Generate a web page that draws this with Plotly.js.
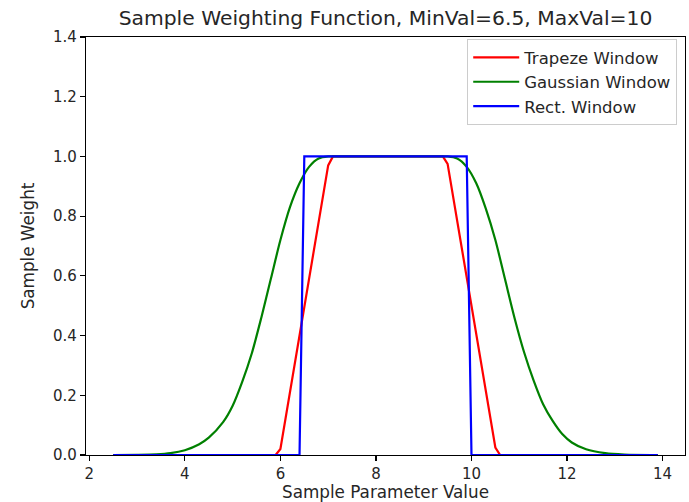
<!DOCTYPE html>
<html>
<head>
<meta charset="utf-8">
<script src="https://cdn.plot.ly/plotly-3.0.1.min.js"></script>
<style>html,body{margin:0;padding:0;background:#fff}#chart{width:689px;height:502px}</style>
</head>
<body>
<div id="chart"></div>
<script>
// Trapeze window
const trapX = [2.5, 5.9, 6.0, 7.0, 7.1, 9.4, 9.5, 10.5, 10.6, 13.9];
const trapY = [0, 0, 0.02, 0.97, 1, 1, 0.975, 0.025, 0, 0];
// Gaussian window
const gaussX = [2.5, 3.0, 3.4, 3.7, 4.0, 4.3, 4.5, 4.8, 5.0, 5.2, 5.4, 5.6, 5.8, 6.0, 6.2, 6.4, 6.6, 6.8, 7.0, 7.1,
                9.4, 9.5, 9.7, 9.9, 10.1, 10.3, 10.5, 10.7, 10.9, 11.1, 11.3, 11.5, 11.7, 11.9, 12.1, 12.4, 12.8, 13.2, 13.9];
const gaussY = [0, 0.0005, 0.002, 0.006, 0.016, 0.036, 0.058, 0.11, 0.165, 0.245, 0.34, 0.46, 0.59, 0.72, 0.83, 0.91, 0.965, 0.993, 1.0, 1.0,
                1.0, 1.0, 0.993, 0.965, 0.91, 0.825, 0.72, 0.59, 0.46, 0.345, 0.25, 0.17, 0.114, 0.07, 0.042, 0.019, 0.006, 0.0015, 0];
// Rect window
const rectX = [2.5, 6.4, 6.5, 9.9, 10.0, 13.9];
const rectY = [0, 0, 1, 1, 0, 0];

const names = ["Trapeze Window", "Gaussian Window", "Rect. Window"];
const colors = ["#ff0000", "#008000", "#0000ff"];

const FONT = "DejaVu Sans, sans-serif";
const traces = [
  {x: trapX, y: trapY, name: names[0], mode: "lines", line: {color: colors[0], width: 2.2}},
  {x: gaussX, y: gaussY, name: names[1], mode: "lines", line: {color: colors[1], width: 2.2, shape: "spline", smoothing: 0.8}},
  {x: rectX, y: rectY, name: names[2], mode: "lines", line: {color: colors[2], width: 2.2}}
];

const axisCommon = {
  showline: true, mirror: true, linecolor: "#000", linewidth: 1.1,
  ticks: "outside", ticklen: 5, tickwidth: 1.1, tickcolor: "#000",
  showgrid: false, zeroline: false,
  tickfont: {family: FONT, size: 15, color: "#262626"}
};

const layout = {
  width: 689, height: 502,
  margin: {l: 86, r: 4, t: 37, b: 47},
  paper_bgcolor: "#fff", plot_bgcolor: "#fff",
  font: {family: FONT, color: "#262626"},
  title: {text: "Sample Weighting Function, MinVal=6.5, MaxVal=10", font: {family: FONT, size: 20.3, color: "#262626"},
          x: 0.5, xref: "paper", y: 1 - 18/502, yref: "container", yanchor: "middle"},
  xaxis: Object.assign({}, axisCommon, {
    range: [1.93, 14.47], tickvals: [2, 4, 6, 8, 10, 12, 14], ticktext: ["2","4","6","8","10","12","14"],
    title: {text: "Sample Parameter Value", font: {family: FONT, size: 16.8, color: "#262626"}, standoff: 5}
  }),
  yaxis: Object.assign({}, axisCommon, {
    range: [0, 1.4], tickvals: [0, 0.2, 0.4, 0.6, 0.8, 1.0, 1.2, 1.4], tickformat: ".1f",
    title: {text: "Sample Weight", font: {family: FONT, size: 16.8, color: "#262626"}, standoff: 14}
  }),
  showlegend: true,
  legend: {x: 0.987, y: 0.995, xanchor: "right", yanchor: "top", bgcolor: "#fff", bordercolor: "#cccccc", borderwidth: 1,
           font: {family: FONT, size: 16.5, color: "#262626"}, tracegroupgap: 0, itemwidth: 46}
};

Plotly.newPlot("chart", traces, layout, {displayModeBar: false, staticPlot: true});
</script>
</body>
</html>
